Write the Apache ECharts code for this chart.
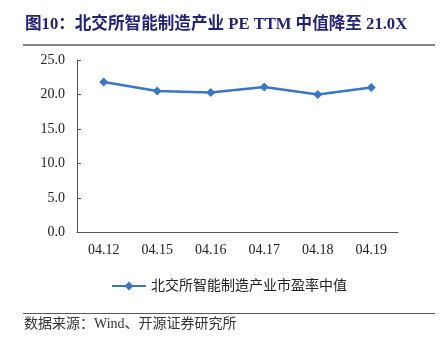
<!DOCTYPE html>
<html>
<head>
<meta charset="utf-8">
<script src="https://cdn.jsdelivr.net/npm/echarts@6/dist/echarts.min.js"></script>
<style>
  html, body { margin: 0; padding: 0; background: #fff; }
  #chart { width: 441px; height: 345px; }
</style>
</head>
<body>
<div id="chart"></div>
<script>
// Trading days and the median PE (TTM) of the smart-manufacturing group
const dates = ['04.12', '04.15', '04.16', '04.17', '04.18', '04.19'];
const peMedian = [21.8, 20.5, 20.3, 21.1, 20.0, 21.0];
const seriesName = '北交所智能制造产业市盈率中值';
const yTicks = { min: 0, max: 25, step: 5 };

const serif = '"Liberation Serif", "Noto Sans CJK SC", serif';
const lineBlue = '#3A76C6';

const chart = echarts.init(document.getElementById('chart'), null, { renderer: 'canvas' });

chart.setOption({
  animation: false,
  backgroundColor: '#ffffff',
  title: {
    text: '图10：北交所智能制造产业 PE TTM 中值降至 21.0X',
    left: 20,
    top: 11,
    textStyle: {
      fontFamily: serif,
      fontSize: 16.6,
      fontWeight: 'bold',
      color: '#22227A'
    }
  },
  graphic: [
    {
      type: 'line',
      shape: { x1: 23, y1: 45, x2: 435, y2: 45 },
      style: { stroke: '#5a5a5a', lineWidth: 1.5 }
    },
    {
      type: 'line',
      shape: { x1: 23, y1: 313.5, x2: 435, y2: 313.5 },
      style: { stroke: '#5a5a5a', lineWidth: 1.2 }
    },
    {
      type: 'text',
      left: 24,
      top: 317,
      style: {
        text: '数据来源：Wind、开源证券研究所',
        font: '14px ' + serif,
        fill: '#333333'
      }
    }
  ],
  grid: {
    left: 77,
    right: 43,
    top: 60,
    bottom: 112.5
  },
  legend: {
    left: 106,
    top: 274,
    itemWidth: 34,
    itemHeight: 11,
    itemGap: 10,
    textStyle: {
      fontFamily: serif,
      fontSize: 14,
      color: '#222222'
    },
    data: [seriesName]
  },
  xAxis: {
    type: 'category',
    data: dates,
    boundaryGap: true,
    axisLine: { lineStyle: { color: '#555555', width: 1 } },
    axisTick: { inside: true, length: 4, lineStyle: { color: '#555555' } },
    axisLabel: {
      margin: 11,
      fontFamily: serif,
      fontSize: 14,
      color: '#222222'
    }
  },
  yAxis: {
    type: 'value',
    min: yTicks.min,
    max: yTicks.max,
    interval: yTicks.step,
    axisLine: { show: true, lineStyle: { color: '#555555', width: 1 } },
    axisTick: { show: true, inside: true, length: 4, lineStyle: { color: '#555555' } },
    splitLine: { show: false },
    axisLabel: {
      margin: 12,
      fontFamily: serif,
      fontSize: 14,
      color: '#222222',
      formatter: v => v.toFixed(1)
    }
  },
  series: [
    {
      name: seriesName,
      type: 'line',
      data: peMedian,
      symbol: 'diamond',
      symbolSize: 9,
      lineStyle: { color: lineBlue, width: 2.5 },
      itemStyle: { color: lineBlue }
    }
  ]
});
</script>
</body>
</html>
